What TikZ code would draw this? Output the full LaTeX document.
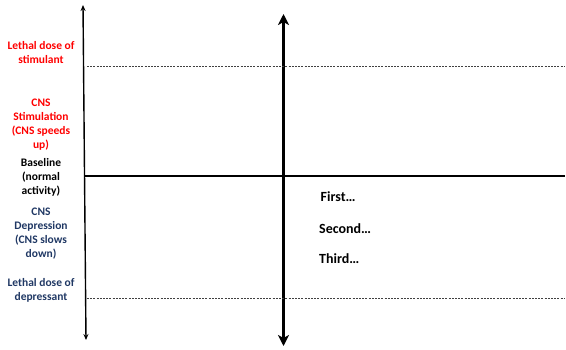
\documentclass[tikz,border=0pt]{standalone}
\usepackage{fontspec}
\setmainfont{Carlito}
\usetikzlibrary{arrows.meta}
\definecolor{redtxt}{HTML}{FF0000}
\definecolor{bluetxt}{HTML}{203864}
\tikzset{
  lbl/.style={font=\bfseries\fontsize{11.5}{14}\selectfont, align=center, inner sep=0pt, anchor=center},
  rlbl/.style={font=\bfseries\fontsize{14}{16}\selectfont, inner sep=0pt, anchor=west},
  thinaxis/.style={line width=1.4pt, {Stealth[length=6pt,width=5pt]}-{Stealth[length=6pt,width=5pt]}},
  thickaxis/.style={line width=2.4pt, {Stealth[length=11pt,width=11pt,inset=3pt]}-{Stealth[length=11pt,width=11pt,inset=3pt]}},
  dotline/.style={line width=0.9pt, black!75, dash pattern=on 2pt off 1.2pt},
  baseline/.style={line width=1.6pt}
}
\begin{document}
\begin{tikzpicture}[x=1pt,y=-1pt]
\useasboundingbox (0,0) rectangle (566,349);
% axes
\coordinate (lt) at (83,5);
\coordinate (lb) at (86,340);
\coordinate (mt) at (283.5,14);
\coordinate (mb) at (283.5,346);
\draw[thinaxis] (lb) -- (lt);
\draw[thickaxis] (mb) -- (mt);
% horizontal lines
\coordinate (bl) at (84.5,176);
\coordinate (br) at (565,176);
\draw[baseline] (bl) -- (br);
\coordinate (tl) at (87,66.5);
\coordinate (tr) at (565,66.5);
\draw[dotline] (tl) -- (tr);
\coordinate (dl) at (87,298);
\coordinate (dr) at (565,298);
\draw[dotline] (dl) -- (dr);
% labels
\node[lbl, text=redtxt] (lethalstim) at (41,53) {Lethal dose of\\stimulant};
\node[lbl, text=redtxt] (cnsstim) at (41,125) {CNS\\Stimulation\\(CNS speeds\\up)};
\node[lbl, text=black] (base) at (41,177) {Baseline\\(normal\\activity)};
\node[lbl, text=bluetxt] (cnsdep) at (41,234) {CNS\\Depression\\(CNS slows\\down)};
\node[lbl, text=bluetxt] (lethaldep) at (41,290) {Lethal dose of\\depressant};
\node[rlbl] (first) at (320.5,197) {First…};
\node[rlbl] (second) at (319,229) {Second…};
\node[rlbl] (third) at (319,259) {Third…};
\end{tikzpicture}
\end{document}
